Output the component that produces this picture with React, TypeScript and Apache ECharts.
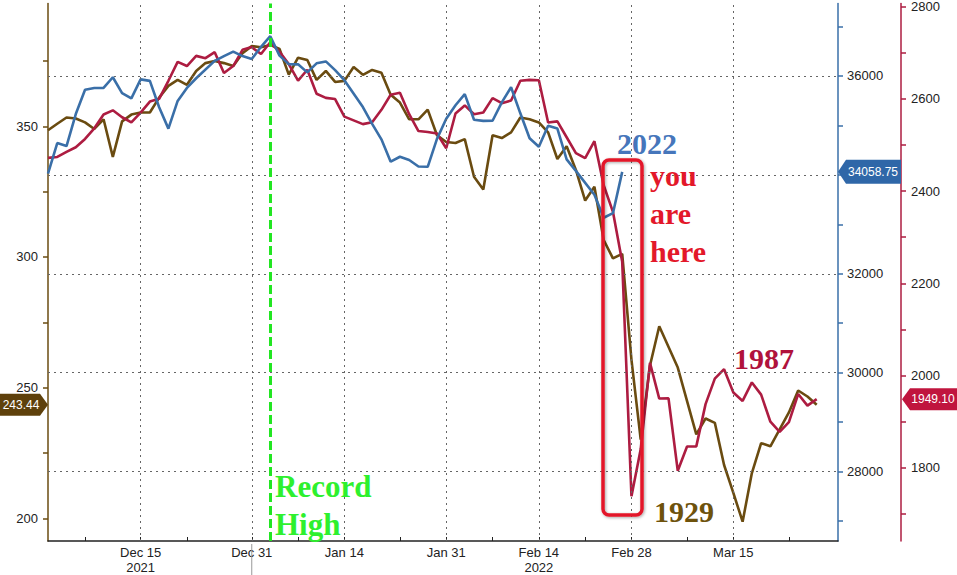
import React, { useEffect, useRef } from "react";
import * as echarts from "echarts";

// x axis: one slot per weekday, index 0 = Dec 1 2021
const xTickPos = [10, 22, 32, 43, 53, 63, 74];
const xTickLabels = ["Dec 15\n2021", "Dec 31", "Jan 14", "Jan 31", "Feb 14\n2022", "Feb 28", "Mar 15"];
const xMinorTickPos = [4, 15, 27, 38, 48, 58, 69, 80];
const recordHighIndex = 24;

const leftLabelTicks = [200, 250, 300, 350];
const leftMinorTicks = [225, 275, 325, 375];
const dowLabelTicks = [28000, 30000, 32000, 36000];
const dowGridTicks = [28000, 30000, 32000, 34000, 36000];
const dowMinorTicks = [27000, 29000, 31000, 33000, 35000, 37000];
const spLabelTicks = [1800, 2000, 2200, 2400, 2600, 2800];
const spMinorTicks = [1700, 1900, 2100, 2300, 2500, 2700];

// 2022 Dow (blue, inner right axis)
const dow2022: (number | null)[] = [
  34022.04, 34639.79, 34580.08, 35227.03, 35719.43, 35754.1, 35754.69, 35970.99, 35650.95, 35544.18,
  35927.43, 35897.64, 35365.44, 34932.16, 35492.7, 35753.89, 35950.56, null, 36302.38, 36398.21,
  36488.63, 36398.08, 36338.3, 36585.06, 36799.65, 36407.11, 36236.47, 36231.66, 36068.87, 36252.02,
  36290.32, 36113.62, 35911.81, null, 35368.47, 35028.65, 34715.39, 34265.37, 34364.5, 34297.73,
  34168.09, 34160.78, 34725.47, 35131.86, 35405.24, 35629.33, 35111.16, 35089.74, 35091.13, 35462.78,
  35768.06, 35241.59, 34738.06, 34566.17, 34988.84, 34934.27, 34312.03, 34079.18, null, 33596.61,
  33131.76, 33223.83, 34058.75,
];

// 1929 Dow (brown, left axis)
const dow1929: (number | null)[] = [
  348.5, 351, 353.4, 353, 351.5, 349, 352.7, 338.3, 351.9, 354.5,
  355.3, 355.3, 361, 365.5, 367.8, 365.9, 371.2, 374.2, 375, 374.2,
  373.1, 378, 380.7, 380.3, 381.17, 379.61, 369.77, 376.29, 375.4, 367.8,
  371.2, 367, 367.4, 372.7, 369.7, 371.6, 370.5, 362.1, 359.1, 352.7,
  352.7, 356.4, 346.6, 344, 343.6, 345.1, 330.7, 325.8, 346.6, 345.5,
  347.7, 353.4, 352.7, 351.5, 347.7, 337.5, 342.4, 333.3, 321.6, 326.9,
  306.5, 299.47, 301.22, 260.64, 230.07, 258.47, 273.51, null, 257.68, null,
  232.13, 238.19, 236.53, 220.39, 209.74, 198.69, 217.28, 228.73, 227.56, 234,
  240.5, 248.9, 246.6, 243.44,
];

// 1987 Dow (crimson, outer right axis)
const dow1987: (number | null)[] = [
  2472, 2474, 2485, 2495, 2513, 2536, 2566, 2575, 2560, 2549,
  2570, 2594, 2600, 2639, 2680, 2671, 2693, 2688, 2701, 2656,
  2671, 2706, 2712, 2697, 2722.42, 2701.85, 2675.06, 2639.35, 2662.95, 2610.97,
  2602.04, 2599.49, 2561.38, null, 2545.12, 2549.27, 2576.05, 2608.74, 2613.04, 2566.58,
  2530.19, 2527.9, 2524.64, 2492.82, 2568.05, 2585.67, 2566.42, 2570.17, 2601.5, 2590.57,
  2596.28, 2639.2, 2640.99, 2640.18, 2548.63, 2551.08, 2516.64, 2482.21, 2471.44, 2508.16,
  2412.7, 2355.09, 2246.73, 1738.74, 1841.01, 2027.85, 1950.43, 1950.76, 1793.93, 1846.49,
  1846.82, 1938.33, 1993.53, 2014.09, 1963.53, 1945.29, 1985.41, 1959.05, 1900.2, 1878.15,
  1899.2, 1960.21, 1935.01, 1949.1,
];

const C_BLUE = "#3a6fa8";
const C_BROWN = "#6a4b10";
const C_CRIMSON = "#ad1c41";
const AX_FONT = "Liberation Sans";

const toPairs = (arr: (number | null)[]) =>
  arr.map((v, i) => [i, v]).filter((d) => d[1] !== null);

const lastVal = (arr: (number | null)[]) => {
  for (let i = arr.length - 1; i >= 0; i--) if (arr[i] !== null) return arr[i] as number;
  return 0;
};

const plain = (v: number) => String(Math.round(v));

export default function App() {
  const ref = useRef<HTMLDivElement>(null);

  useEffect(() => {
    if (!ref.current) return;
    const chart = echarts.init(ref.current, null, { renderer: "svg" });
    const gridDot = { color: "#666", width: 1, type: [2, 4] as any };

    const option: any = {
      animation: false,
      backgroundColor: "#ffffff",
      grid: { left: 48, right: 119, top: 0, bottom: 32, containLabel: false },
      xAxis: {
        type: "value",
        min: 0,
        max: 85.3,
        splitLine: { show: false },
        axisLine: { show: true, lineStyle: { color: "#222", width: 1.5 } },
        axisTick: {
          show: true,
          inside: true,
          length: 4,
          customValues: [...xTickPos, ...xMinorTickPos].sort((a, b) => a - b),
          lineStyle: { color: "#222" },
        },
        axisLabel: {
          customValues: xTickPos,
          formatter: (v: number) => {
            const k = xTickPos.indexOf(Math.round(v));
            return k >= 0 ? xTickLabels[k] : "";
          },
          fontFamily: AX_FONT,
          fontSize: 13,
          color: "#222",
          lineHeight: 15,
          margin: 4,
        },
      },
      yAxis: [
        {
          type: "value",
          position: "left",
          min: 191.3,
          max: 397.0,
          splitLine: { show: false },
          axisLine: { show: true, lineStyle: { color: C_BROWN, width: 1.5 } },
          axisTick: {
            show: true,
            length: 5,
            customValues: [...leftLabelTicks, ...leftMinorTicks],
            lineStyle: { color: C_BROWN, width: 1.5 },
          },
          axisLabel: {
            customValues: leftLabelTicks,
            formatter: plain,
            fontFamily: AX_FONT,
            fontSize: 13,
            color: "#222",
            margin: 10,
          },
        },
        {
          type: "value",
          position: "right",
          min: 26600,
          max: 37460,
          splitLine: { show: false },
          axisLine: { show: true, lineStyle: { color: C_BLUE, width: 1.5 } },
          axisTick: {
            show: true,
            length: 5,
            customValues: [...dowGridTicks, ...dowMinorTicks],
            lineStyle: { color: C_BLUE, width: 1.5 },
          },
          axisLabel: {
            customValues: dowLabelTicks,
            formatter: plain,
            fontFamily: AX_FONT,
            fontSize: 13,
            color: "#222",
            margin: 9,
          },
        },
        {
          type: "value",
          position: "right",
          offset: 63,
          min: 1641.8,
          max: 2806.4,
          splitLine: { show: false },
          axisLine: { show: true, lineStyle: { color: C_CRIMSON, width: 1.5 } },
          axisTick: {
            show: true,
            length: 5,
            customValues: [...spLabelTicks, ...spMinorTicks],
            lineStyle: { color: C_CRIMSON, width: 1.5 },
          },
          axisLabel: {
            customValues: spLabelTicks,
            formatter: plain,
            fontFamily: AX_FONT,
            fontSize: 13,
            color: "#222",
            margin: 10,
          },
        },
      ],
      series: [
        {
          name: "grid",
          type: "line",
          yAxisIndex: 1,
          data: [[0, 36000]],
          showSymbol: false,
          symbol: "none",
          lineStyle: { opacity: 0 },
          silent: true,
          z: 1,
          markLine: {
            silent: true,
            symbol: "none",
            label: { show: false },
            lineStyle: gridDot,
            data: [
              ...dowGridTicks.map((v) => ({ yAxis: v })),
              ...xTickPos.map((v) => ({ xAxis: v })),
            ],
          },
        },
        {
          name: "1929",
          type: "line",
          yAxisIndex: 0,
          data: toPairs(dow1929),
          showSymbol: false,
          symbol: "none",
          lineStyle: { color: C_BROWN, width: 2.6 },
          z: 2,
        },
        {
          name: "1987",
          type: "line",
          yAxisIndex: 2,
          data: toPairs(dow1987),
          showSymbol: false,
          symbol: "none",
          lineStyle: { color: C_CRIMSON, width: 2.6 },
          z: 3,
        },
        {
          name: "2022",
          type: "line",
          yAxisIndex: 1,
          data: toPairs(dow2022),
          showSymbol: false,
          symbol: "none",
          lineStyle: { color: C_BLUE, width: 2.6 },
          z: 4,
        },
        {
          name: "record",
          type: "line",
          yAxisIndex: 1,
          data: [[recordHighIndex, 36000]],
          showSymbol: false,
          symbol: "none",
          lineStyle: { opacity: 0 },
          silent: true,
          z: 5,
          markLine: {
            silent: true,
            symbol: "none",
            label: { show: false },
            lineStyle: { color: "#22e622", width: 3, type: [9, 4] as any },
            data: [{ xAxis: recordHighIndex }],
          },
        },
      ],
    };
    chart.setOption(option);

    const v1929 = lastVal(dow1929);
    const v2022 = lastVal(dow2022);
    const v1987 = lastVal(dow1987);
    const yB = chart.convertToPixel({ yAxisIndex: 0 }, v1929) as number;
    const yD = chart.convertToPixel({ yAxisIndex: 1 }, v2022) as number;
    const yC = chart.convertToPixel({ yAxisIndex: 2 }, v1987) as number;
    const xDec31 = chart.convertToPixel({ xAxisIndex: 0 }, xTickPos[1]) as number;

    const serif = '"Liberation Serif", "DejaVu Serif", serif';
    const tagFont = { fontFamily: AX_FONT, fontSize: 12, fill: "#ffffff" };
    const h = 11;
    const ann = (text: string, x: number, y: number, fill: string, size = 30) => ({
      type: "text", z: 70, x, y,
      style: { text, fontFamily: serif, fontWeight: "bold", fontSize: size, fill, align: "left", verticalAlign: "middle" },
    });

    const graphic: any[] = [
      // year separator below axis
      { type: "line", z: 50, shape: { x1: xDec31, y1: 544, x2: xDec31, y2: 575 }, style: { stroke: "#999", lineWidth: 1 } },
      // left tag 1929
      {
        type: "polygon", z: 100,
        shape: { points: [[0, yB - h], [40, yB - h], [48, yB], [40, yB + h], [0, yB + h]] },
        style: { fill: "#5e400b" },
      },
      { type: "text", z: 101, x: 21, y: yB, style: { ...tagFont, text: v1929.toFixed(2), align: "center", verticalAlign: "middle" } },
      // blue tag 2022
      {
        type: "polygon", z: 100,
        shape: { points: [[838, yD], [846, yD - 12], [901, yD - 12], [901, yD + 12], [846, yD + 12]] },
        style: { fill: "#2f67a8" },
      },
      { type: "text", z: 101, x: 873, y: yD, style: { ...tagFont, text: v2022.toFixed(2), align: "center", verticalAlign: "middle" } },
      // crimson tag 1987
      {
        type: "polygon", z: 100,
        shape: { points: [[902, yC], [910, yC - h], [957, yC - h], [957, yC + h], [910, yC + h]] },
        style: { fill: "#c0153e" },
      },
      { type: "text", z: 101, x: 933, y: yC, style: { ...tagFont, text: v1987.toFixed(2), align: "center", verticalAlign: "middle" } },
      // "you are here" box
      {
        type: "rect", z: 60,
        shape: { x: 603, y: 160, width: 39, height: 355, r: 6 },
        style: { fill: "none", stroke: "#e3182a", lineWidth: 3.5, shadowBlur: 3, shadowColor: "rgba(0,0,0,0.35)", shadowOffsetX: 1, shadowOffsetY: 1 },
      },
      // annotations
      ann("2022", 617, 143, "#4676bb"),
      ann("you", 650, 175, "#e3182a"),
      ann("are", 650, 213, "#e3182a"),
      ann("here", 650, 251, "#e3182a"),
      ann("1987", 734, 358, "#b0123c"),
      ann("1929", 654, 511, "#6e520c"),
      ann("Record", 275, 486, "#2ef02e", 31),
      ann("High", 275, 524, "#2ef02e", 31),
    ];
    chart.setOption({ graphic });

    return () => chart.dispose();
  }, []);

  return (
    <div
      ref={ref}
      style={{ position: "absolute", left: 0, top: 0, width: 957, height: 575, background: "#fff" }}
    />
  );
}
